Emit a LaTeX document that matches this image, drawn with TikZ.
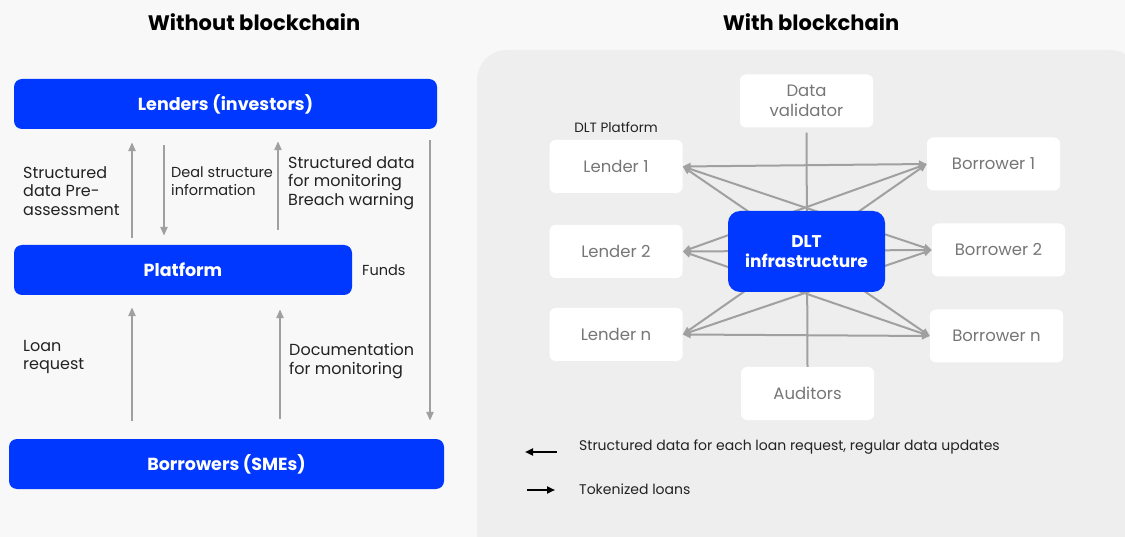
\documentclass[tikz,border=0pt]{standalone}
\usepackage{fontspec}
\setmainfont{Poppins}
\usepackage{tikz}
\usetikzlibrary{arrows.meta, positioning}
\definecolor{dltblue}{RGB}{0,56,255}
\definecolor{pagebg}{RGB}{248,248,248}
\definecolor{panelbg}{RGB}{238,238,238}
\definecolor{linegray}{RGB}{160,160,160}
\definecolor{boxtext}{RGB}{118,118,118}
\definecolor{labeltext}{RGB}{34,34,34}
\tikzset{%
	bluebox/.style={
		fill=dltblue,
		rounded corners=8pt,
		text=white,
		font=\fontsize{17.5}{20}\selectfont\bfseries
	},
	whitebox/.style={
		fill=white,
		rounded corners=6pt,
		text=boxtext,
		minimum width=133pt,
		minimum height=53pt,
		align=center,
		font=\fontsize{16.5}{20}\selectfont
	},
	label text/.style={
		anchor=west,
		align=left,
		inner sep=0pt,
		text=labeltext,
		font=\fontsize{16}{18.5}\selectfont
	},
}

\begin{document}
\begin{tikzpicture}[
			x=1pt, y=-1pt,
			flow/.style={draw=linegray, line width=2.4pt, -{Triangle[length=9pt,width=7pt]}},
			link/.style={draw=linegray, line width=2pt, {Triangle[length=8pt,width=7pt]}-{Triangle[length=8pt,width=7pt]}},
			legend arrow/.style={draw=black, line width=2.6pt, -{Triangle[length=8pt,width=7pt]}},
			title/.style={font=\fontsize{21}{24}\selectfont\bfseries}
			]
			
			% Background and panel
			\useasboundingbox (0,0) rectangle (1125,537);
			\fill[pagebg] (0,0) rectangle (1125,537);
			\fill[panelbg, rounded corners=30pt] (477,50) rectangle (1140,570);
			
			% Titles
			\node[title] (titleLeft) at (254,22) {Without blockchain};
			\node[title] (titleRight) at (811,22) {With blockchain};
			
			% Without blockchain
			\node[bluebox, minimum width=423pt, minimum height=50pt] (lenders) at (225.5,104) {Lenders (investors)};
			\node[bluebox, minimum width=338pt, minimum height=50pt] (platform) at (183,270) {Platform};
			\node[bluebox, minimum width=435pt, minimum height=50pt] (borrowers) at (226.5,464) {Borrowers (SMEs)};
			
			\coordinate (colA) at (132,0);
			\coordinate (colB) at (164,0);
			\coordinate (colC) at (278,0);
			\coordinate (colD) at (280,0);
			\coordinate (colE) at (430,0);
			
			\draw[flow, shorten <=7pt, shorten >=13pt] (platform.north -| colA) -- (lenders.south -| colA);
			\draw[flow, shorten <=16pt, shorten >=9pt] (lenders.south -| colB) -- (platform.north -| colB);
			\draw[flow, shorten <=15pt, shorten >=12pt] (platform.north -| colC) -- (lenders.south -| colC);
			\draw[flow, shorten <=18pt, shorten >=12pt] (borrowers.north -| colA) -- (platform.south -| colA);
			\draw[flow, shorten <=20pt, shorten >=14pt] (borrowers.north -| colD) -- (platform.south -| colD);
			\draw[flow, shorten <=11pt, shorten >=18pt] (lenders.south -| colE) -- (borrowers.north -| colE);
			
			\node[label text] (lblPre) at (23,191) {Structured\\data Pre-\\assessment};
			\node[label text, font=\fontsize{14.5}{18}\selectfont] (lblDeal) at (171,181) {Deal structure\\information};
			\node[label text] (lblMon) at (288,183) {Structured data\\for monitoring\\Breach warning};
			\node[label text, font=\fontsize{14.5}{17}\selectfont] (lblFunds) at (362,270) {Funds};
			\node[label text] (lblLoan) at (23,357) {Loan\\request};
			\node[label text] (lblDoc) at (289,361) {Documentation\\for monitoring};
			
			% With blockchain
			\node[whitebox] (lender1) at (616,166.5) {Lender 1};
			\node[whitebox] (lender2) at (616,251.5) {Lender 2};
			\node[whitebox] (lendern) at (616,334.5) {Lender n};
			\node[whitebox] (borrower1) at (993.5,164) {Borrower 1};
			\node[whitebox] (borrower2) at (998.5,250) {Borrower 2};
			\node[whitebox] (borrowern) at (996.5,336) {Borrower n};
			\node[whitebox] (validator) at (806.5,101) {Data\\validator};
			\node[whitebox] (auditors) at (807.5,393.5) {Auditors};
			\node[above=7pt of lender1, text=labeltext, inner sep=0pt, font=\fontsize{13.5}{16}\selectfont] (dltPlatform) {DLT Platform};
			
			\draw[draw=linegray, line width=2pt, shorten <=5pt] (validator.south) -- (auditors.north);
			\foreach \l in {lender1,lender2,lendern}
				\foreach \b in {borrower1,borrower2,borrowern}
					\draw[link] (\l.east) -- (\b.west);
			
			\node[bluebox, rounded corners=12pt, minimum width=157pt, minimum height=81pt, align=center, font=\fontsize{17}{20}\selectfont\bfseries] (dlt) at (806.5,251.5) {DLT\\infrastructure};
			
			% Legend
			\coordinate (legA1) at (557,452);
			\coordinate (legA2) at (525,452);
			\coordinate (legB1) at (527,490);
			\coordinate (legB2) at (555,490);
			\draw[legend arrow] (legA1) -- (legA2);
			\draw[legend arrow] (legB1) -- (legB2);
			\node[label text, font=\fontsize{14}{17}\selectfont] (legText1) at (579,447) {Structured data for each loan request, regular data updates};
			\node[label text, font=\fontsize{14}{17}\selectfont] (legText2) at (579,489) {Tokenized loans};
			
		\end{tikzpicture}
\end{document}
